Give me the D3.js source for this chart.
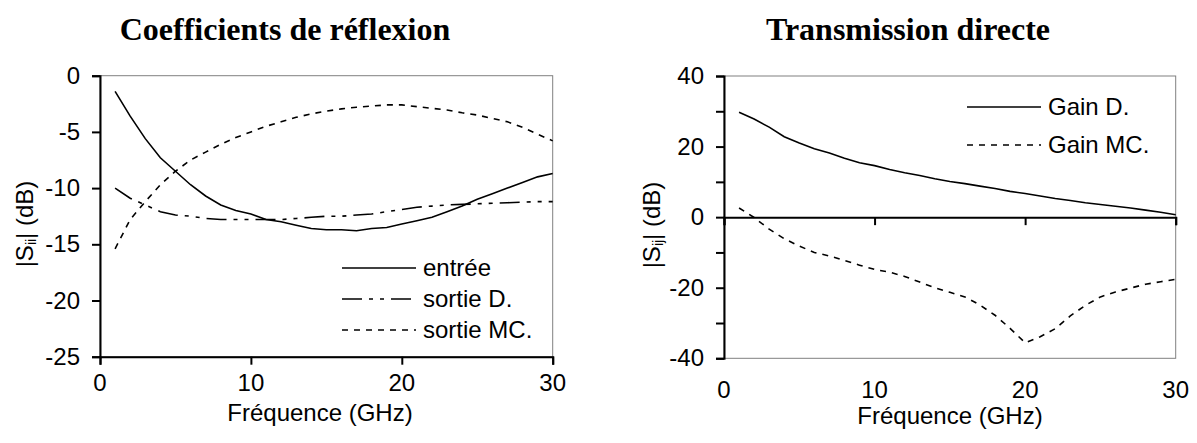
<!DOCTYPE html>
<html>
<head>
<meta charset="utf-8">
<script src="https://cdn.jsdelivr.net/npm/d3@7"></script>
<style>
  body { margin: 0; background: #fff; }
  svg { display: block; }
  .tick text { font-family: "Liberation Sans", Arial, sans-serif; font-size: 24px; fill: #000; }
</style>
</head>
<body>
<svg id="chart" width="1197" height="443"></svg>
<script>
// frequence (GHz)
var freq = [1,2,3,4,5,6,7,8,9,10,11,12,13,14,15,16,17,18,19,20,21,22,23,24,25,26,27,28,29,30];

// coefficients de reflexion (dB)
var entree   = [-1.4,-3.6,-5.6,-7.3,-8.5,-9.7,-10.7,-11.5,-12.0,-12.3,-12.8,-13.0,-13.3,-13.6,-13.7,-13.7,-13.8,-13.6,-13.5,-13.2,-12.9,-12.6,-12.1,-11.6,-11.0,-10.5,-10.0,-9.5,-9.0,-8.7];
var sortieD  = [-10.0,-10.9,-11.5,-12.1,-12.4,-12.5,-12.7,-12.8,-12.8,-12.8,-12.8,-12.8,-12.7,-12.6,-12.5,-12.5,-12.4,-12.3,-12.1,-11.9,-11.7,-11.6,-11.5,-11.45,-11.4,-11.35,-11.3,-11.25,-11.2,-11.2];
var sortieMC = [-15.4,-12.8,-11.2,-9.7,-8.5,-7.5,-6.8,-6.1,-5.5,-5.0,-4.5,-4.1,-3.7,-3.4,-3.15,-2.95,-2.8,-2.7,-2.6,-2.6,-2.75,-2.9,-3.05,-3.3,-3.5,-3.8,-4.1,-4.6,-5.2,-5.8];

// transmission directe (dB)
var gainD  = [29.7,27.8,25.5,22.8,21.0,19.4,18.2,16.7,15.4,14.6,13.5,12.6,11.8,10.9,10.1,9.5,8.8,8.1,7.3,6.7,6.0,5.3,4.7,4.1,3.6,3.1,2.6,2.0,1.4,0.7];
var gainMC = [2.6,-0.1,-3.4,-6.1,-8.2,-10.0,-11.0,-12.3,-13.6,-14.8,-15.6,-16.8,-18.4,-20.0,-21.3,-22.6,-24.9,-27.8,-31.5,-35.6,-33.9,-31.6,-28.0,-25.0,-22.6,-21.2,-20.1,-19.0,-18.3,-17.6];

var xTicks = [0, 10, 20, 30];
var yTicksLeft = [-25, -20, -15, -10, -5, 0];
var yTicksRight = [-40, -30, -20, -10, 0, 10, 20, 30, 40];

var svg = d3.select("#chart");
var sans = "'Liberation Sans', Arial, sans-serif";
var serif = "'Liberation Serif', 'Times New Roman', serif";

var dashes = {
  solid: null,
  dashdot: "20,7,4,7,4,7",
  dotted: "6,6"
};

function drawPanel(p) {
  var g = svg.append("g");
  var x = d3.scaleLinear().domain([0, 30]).range([p.left, p.right]);
  var y = d3.scaleLinear().domain(p.yDomain).range([p.bottom, p.top]);

  // cadre gris
  g.append("rect")
    .attr("x", p.left).attr("y", p.top)
    .attr("width", p.right - p.left).attr("height", p.bottom - p.top)
    .attr("fill", "none").attr("stroke", "#808080").attr("stroke-width", 1);

  // axe y
  var yAxis = d3.axisLeft(y).tickValues(p.yTicks).tickSize(8).tickPadding(12)
    .tickFormat(function (d) { return p.yLabels.indexOf(d) >= 0 ? d : ""; });
  var ya = g.append("g").attr("transform", "translate(" + p.left + ",0)").call(yAxis);

  // axe x (sur la ligne y = xAt)
  var xAxis = d3.axisBottom(x).tickValues(xTicks).tickSize(8).tickFormat("");
  var xa = g.append("g").attr("transform", "translate(0," + y(p.xAt) + ")").call(xAxis);

  [ya, xa].forEach(function (a) {
    a.select(".domain").attr("stroke", "#000").attr("stroke-width", 2);
    a.selectAll(".tick line").attr("stroke", "#000").attr("stroke-width", 2);
  });

  // etiquettes x en bas
  g.selectAll(".xlab").data(xTicks).enter().append("text")
    .attr("x", function (d) { return x(d); })
    .attr("y", p.xLabelY)
    .attr("text-anchor", "middle")
    .style("font-family", sans).style("font-size", "24px")
    .text(function (d) { return d; });

  // courbes
  var line = d3.line()
    .x(function (d) { return x(d[0]); })
    .y(function (d) { return y(d[1]); });

  p.series.forEach(function (s) {
    g.append("path")
      .datum(freq.map(function (f, i) { return [f, s.values[i]]; }))
      .attr("d", line)
      .attr("fill", "none")
      .attr("stroke", "#000")
      .attr("stroke-width", 1.6)
      .attr("stroke-dasharray", dashes[s.style]);
  });

  // legende
  p.series.forEach(function (s, i) {
    var ly = p.legend.y + i * p.legend.step;
    g.append("line")
      .attr("x1", p.legend.x).attr("x2", p.legend.x + 74)
      .attr("y1", ly).attr("y2", ly)
      .attr("stroke", "#000").attr("stroke-width", 1.6)
      .attr("stroke-dasharray", dashes[s.style]);
    g.append("text")
      .attr("x", p.legend.x + 81).attr("y", ly + 8)
      .style("font-family", sans).style("font-size", "24px")
      .text(s.name);
  });

  // titres
  g.append("text")
    .attr("x", p.titleX).attr("y", 40)
    .attr("text-anchor", "middle")
    .style("font-family", serif).style("font-size", "32px").style("font-weight", "bold")
    .text(p.title);

  g.append("text")
    .attr("x", p.xTitleX).attr("y", p.xTitleY)
    .attr("text-anchor", "middle")
    .style("font-family", sans).style("font-size", "24px")
    .text("Fréquence (GHz)");

  var yt = g.append("text")
    .attr("transform", "translate(" + p.yTitleX + "," + p.yTitleY + ") rotate(-90)")
    .attr("text-anchor", "middle")
    .style("font-family", sans).style("font-size", "24px");
  yt.append("tspan").text("|S");
  yt.append("tspan").attr("dy", 3).style("font-size", "14px").text(p.sub);
  yt.append("tspan").attr("dy", -3).text("| (dB)");
}

drawPanel({
  left: 100, right: 552.7, top: 75.7, bottom: 356.7,
  yDomain: [-25, 0], yTicks: yTicksLeft, yLabels: yTicksLeft, xAt: -25,
  xLabelY: 391, xTitleY: 421,
  title: "Coefficients de réflexion", titleX: 285, xTitleX: 320,
  yTitleX: 33, yTitleY: 224, sub: "ii",
  legend: { x: 342, y: 268, step: 31 },
  series: [
    { name: "entrée", values: entree, style: "solid" },
    { name: "sortie D.", values: sortieD, style: "dashdot" },
    { name: "sortie MC.", values: sortieMC, style: "dotted" }
  ]
});

drawPanel({
  left: 724, right: 1175.7, top: 76, bottom: 358.3,
  yDomain: [-40, 40], yTicks: yTicksRight, yLabels: [-40, -20, 0, 20, 40], xAt: 0,
  xLabelY: 398, xTitleY: 424,
  title: "Transmission directe", titleX: 908, xTitleX: 950,
  yTitleX: 660, yTitleY: 225, sub: "ij",
  legend: { x: 967, y: 107, step: 38 },
  series: [
    { name: "Gain D.", values: gainD, style: "solid" },
    { name: "Gain MC.", values: gainMC, style: "dotted" }
  ]
});
</script>
</body>
</html>
